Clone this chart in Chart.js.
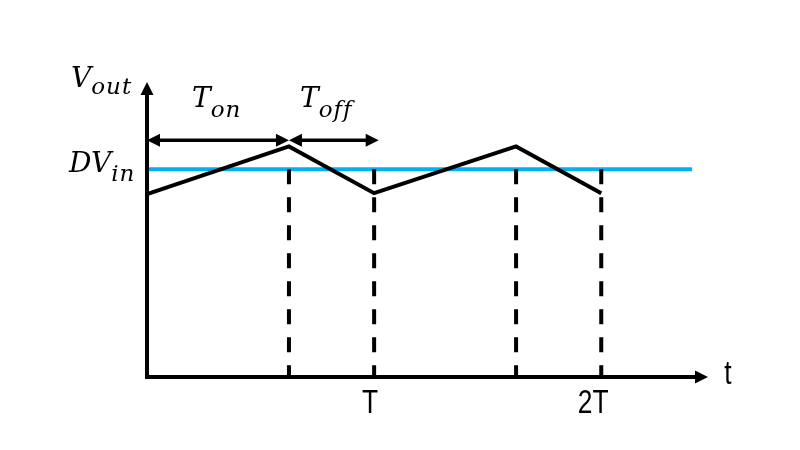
<!DOCTYPE html>
<html>
<head>
<meta charset="utf-8">
<script src="https://cdn.jsdelivr.net/npm/chart.js@4.4.0/dist/chart.umd.min.js"></script>
<style>
  html, body { margin: 0; background: #fff; }
</style>
</head>
<body>
<canvas id="myChart" width="800" height="450"></canvas>
<script>
// time in units of T, voltage in units of D*Vin
const rippleT = [0, 0.625, 1, 1.625, 2];
const rippleV = [0.88, 1.11, 0.885, 1.11, 0.885];
const avgT = [0, 2.4];
const avgV = [1, 1];
const switchT = [0.625, 1, 1.625, 2];
const tickValues = [1, 2];
const tickLabels = ['T', '2T'];
const tMax = 2.47;
const vMax = 1.42;
const spanLevel = 1.14;
const onSpan = [0, 0.625];
const offSpan = [0.625, 1.02];

const serif = '"DejaVu Serif", "Liberation Serif", serif';
const sans = '"Liberation Sans", Roboto, sans-serif';

function toXY(xs, ys) {
    return xs.map((x, i) => ({ x: x, y: ys[i] }));
}

// dashed verticals from DVin down to the time axis, one gap between each
const dashData = [];
switchT.forEach((t) => {
    dashData.push({ x: t, y: avgV[0] }, { x: t, y: 0 }, { x: t, y: null });
});

function drawHead(ctx, x, y, dx, dy) {
    const len = 13, half = 6.5;
    const px = -dy, py = dx;
    ctx.beginPath();
    ctx.moveTo(x, y);
    ctx.lineTo(x - dx * len + px * half, y - dy * len + py * half);
    ctx.lineTo(x - dx * len - px * half, y - dy * len - py * half);
    ctx.closePath();
    ctx.fill();
}

function mathLabel(ctx, main, sub, x, y, subDrop) {
    ctx.font = 'italic 28px ' + serif;
    ctx.textAlign = 'left';
    ctx.textBaseline = 'alphabetic';
    ctx.fillText(main, x, y);
    const w = ctx.measureText(main).width;
    ctx.font = 'italic 23px ' + serif;
    ctx.letterSpacing = '1px';
    ctx.fillText(sub, x + w, y + subDrop);
    ctx.letterSpacing = '0px';
}

// narrow sans text, squeezed horizontally
function narrowText(ctx, text, cx, y) {
    ctx.save();
    ctx.translate(cx, y);
    ctx.scale(0.8, 1);
    ctx.fillText(text, 0, 0);
    ctx.restore();
}

const diagramPlugin = {
    id: 'diagram',
    afterDatasetsDraw(chart) {
        const ctx = chart.ctx;
        const xs = chart.scales.x, ys = chart.scales.y;
        const x0 = xs.getPixelForValue(0), y0 = ys.getPixelForValue(0);
        const xEnd = xs.getPixelForValue(tMax), yTop = ys.getPixelForValue(vMax);
        ctx.save();
        ctx.strokeStyle = '#000';
        ctx.fillStyle = '#000';

        // axes
        ctx.lineWidth = 4;
        ctx.lineJoin = 'miter';
        ctx.beginPath();
        ctx.moveTo(x0, yTop + 10);
        ctx.lineTo(x0, y0);
        ctx.lineTo(xEnd - 10, y0);
        ctx.stroke();
        drawHead(ctx, x0, yTop, 0, -1);
        drawHead(ctx, xEnd, y0, 1, 0);

        // Ton / Toff spans
        const ya = ys.getPixelForValue(spanLevel);
        [onSpan, offSpan].forEach((s) => {
            const a = xs.getPixelForValue(s[0]), b = xs.getPixelForValue(s[1]);
            ctx.lineWidth = 3.5;
            ctx.beginPath();
            ctx.moveTo(a + 10, ya);
            ctx.lineTo(b - 10, ya);
            ctx.stroke();
            drawHead(ctx, a, ya, -1, 0);
            drawHead(ctx, b, ya, 1, 0);
        });

        // math labels
        mathLabel(ctx, 'V', 'out', x0 - 76, yTop + 5, 7);
        mathLabel(ctx, 'DV', 'in', x0 - 78, ys.getPixelForValue(avgV[0]) + 3, 9);
        mathLabel(ctx, 'T', 'on', xs.getPixelForValue(onSpan[0]) + 45, ya - 33, 10);
        mathLabel(ctx, 'T', 'off', xs.getPixelForValue(offSpan[0]) + 11, ya - 33, 10);

        // tick labels and t
        ctx.font = '33px ' + sans;
        ctx.textAlign = 'center';
        ctx.textBaseline = 'alphabetic';
        tickValues.forEach((v, i) => {
            narrowText(ctx, tickLabels[i], xs.getPixelForValue(v) - 4 * (i + 1), y0 + 36);
        });
        narrowText(ctx, 't', xEnd + 20, y0 + 7);
        ctx.restore();
    }
};

new Chart(document.getElementById('myChart'), {
    type: 'line',
    data: {
        datasets: [
            {
                label: 'Vout',
                data: toXY(rippleT, rippleV),
                borderColor: '#000',
                borderWidth: 4,
                pointRadius: 0,
                tension: 0,
                clip: false
            },
            {
                label: 'switching',
                data: dashData,
                borderColor: '#000',
                borderWidth: 4,
                borderDash: [15, 13],
                pointRadius: 0,
                spanGaps: false,
                clip: false
            },
            {
                label: 'DVin',
                data: toXY(avgT, avgV),
                borderColor: '#00B0F0',
                borderWidth: 4,
                pointRadius: 0,
                clip: false
            }
        ]
    },
    options: {
        responsive: false,
        devicePixelRatio: 1,
        animation: false,
        layout: { padding: { left: 147, right: 92, top: 82, bottom: 73 } },
        scales: {
            x: { type: 'linear', min: 0, max: tMax, display: false },
            y: { type: 'linear', min: 0, max: vMax, display: false }
        },
        plugins: {
            legend: { display: false },
            tooltip: { enabled: false }
        }
    },
    plugins: [diagramPlugin]
});
</script>
</body>
</html>
